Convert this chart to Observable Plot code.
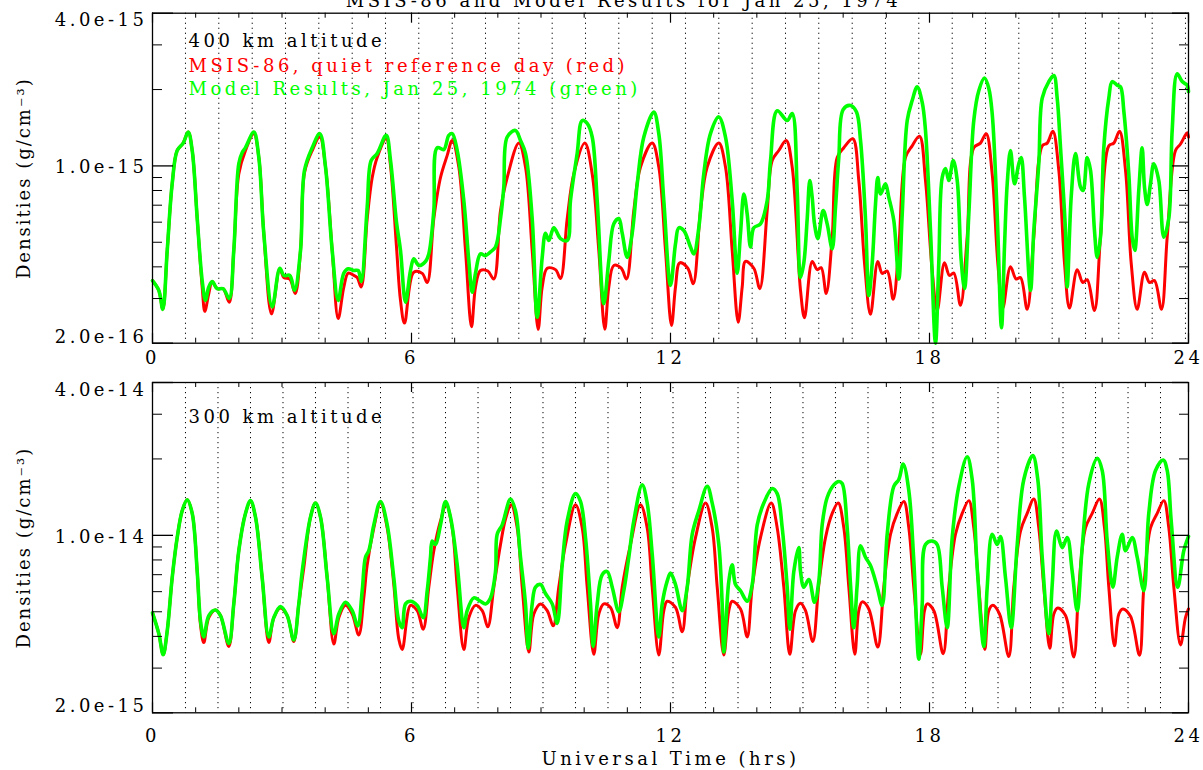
<!DOCTYPE html>
<html><head><meta charset="utf-8">
<script src="https://cdn.jsdelivr.net/npm/d3@7"></script>
<script src="https://cdn.jsdelivr.net/npm/@observablehq/plot@0.6"></script>
<style>
html,body{margin:0;padding:0;background:#fff;}
#chart{width:1203px;height:770px;overflow:hidden;position:relative;background:#fff;}
#chart svg{display:block;}
</style></head><body><div id="chart"></div>
<script>
const title = "MSIS-86 and Model Results for Jan 25, 1974";
const xLabel = "Universal Time (hrs)";
const yLabel = "Densities (g/cm\u207B\u00B3)";
const notes400 = ["400 km altitude", "MSIS-86, quiet reference day (red)", "Model Results, Jan 25, 1974 (green)"];
const notes300 = ["300 km altitude"];
const hourTicks = [0,1,2,3,4,5,6,7,8,9,10,11,12,13,14,15,16,17,18,19,20,21,22,23,24];
const hourLabels = [0,6,12,18,24];
const unit400 = 1e-16, unit300 = 1e-15;
const majors400 = [4e-15, 1e-15, 2e-16], majorLabels400 = ["4.0e-15","1.0e-15","2.0e-16"];
const minors400 = [3e-15, 2e-15, 9e-16, 8e-16, 7e-16, 6e-16, 5e-16, 4e-16, 3e-16];
const majors300 = [4e-14, 1e-14, 2e-15], majorLabels300 = ["4.0e-14","1.0e-14","2.0e-15"];
const minors300 = [3e-14, 2e-14, 9e-15, 8e-15, 7e-15, 6e-15, 5e-15, 4e-15, 3e-15];
// orbit node times (dotted lines), hours
const nodes400 = [0.764,1.536,2.31,3.081,3.853,4.626,5.398,6.169,6.943,7.714,8.486,9.259,10.031,10.802,11.576,12.347,13.119,13.892,14.664,15.435,16.209,16.98,17.752,18.526,19.297,20.069,20.842,21.614,22.385,23.159,23.93];
const nodes300 = [0.764,1.517,2.27,3.023,3.776,4.529,5.282,6.035,6.788,7.541,8.294,9.046,9.799,10.552,11.305,12.058,12.811,13.564,14.317,15.069,15.822,16.575,17.328,18.081,18.834,19.587,20.34,21.093,21.846,22.599,23.351];
// [UT hours, density in unit400]
const msis400 = [[0,3.53],[0.146,3.23],[0.239,2.72],[0.341,4.64],[0.456,8.5],[0.572,11.5],[0.711,12.3],[0.827,13.6],[0.92,11.5],[1.036,6.2],[1.151,3.33],[1.212,2.67],[1.304,3.14],[1.383,3.5],[1.499,3.28],[1.638,3.28],[1.777,2.9],[1.883,4.64],[1.999,9.3],[2.154,11.5],[2.347,13.4],[2.463,10.8],[2.578,5.43],[2.757,2.61],[2.949,3.93],[3.042,3.63],[3.181,3.58],[3.306,3.14],[3.429,4.64],[3.521,9.4],[3.7,11.5],[3.876,13.0],[4.008,9.9],[4.163,4.64],[4.302,2.5],[4.432,3.33],[4.534,3.78],[4.663,3.7],[4.742,3.63],[4.835,3.33],[4.974,6.2],[5.09,9.0],[5.205,10.8],[5.414,12.8],[5.514,10.0],[5.652,4.8],[5.745,2.95],[5.838,2.4],[6.053,3.81],[6.248,3.77],[6.364,3.47],[6.517,6.2],[6.672,9.0],[6.827,11.0],[6.943,12.6],[7.096,9.9],[7.251,4.64],[7.39,2.32],[7.483,3.33],[7.598,3.87],[7.768,3.85],[7.907,3.58],[8.062,6.67],[8.217,9.0],[8.486,12.3],[8.641,9.9],[8.796,4.64],[8.935,2.27],[9.028,3.33],[9.144,3.95],[9.336,3.9],[9.452,3.6],[9.607,6.2],[9.76,9.3],[10.015,12.3],[10.186,9.3],[10.339,4.64],[10.478,2.27],[10.571,3.33],[10.687,4.05],[10.858,3.95],[10.981,3.58],[11.15,6.67],[11.305,9.9],[11.576,12.3],[11.729,9.9],[11.884,4.64],[12.023,2.35],[12.116,3.33],[12.215,4.15],[12.401,3.95],[12.526,3.43],[12.695,6.67],[12.85,9.9],[13.119,12.3],[13.274,9.9],[13.429,4.64],[13.568,2.42],[13.661,3.33],[13.737,4.2],[13.93,3.95],[14.069,3.28],[14.24,6.67],[14.356,10.5],[14.509,11.5],[14.68,12.6],[14.819,9.9],[15.012,3.23],[15.104,2.52],[15.283,4.2],[15.399,3.9],[15.491,3.97],[15.607,3.14],[15.746,5.24],[15.862,10.8],[16.015,11.8],[16.223,12.8],[16.362,8.76],[16.494,4.15],[16.633,2.6],[16.802,4.2],[16.904,3.77],[17.02,3.85],[17.159,2.98],[17.289,4.79],[17.444,10.8],[17.599,12.0],[17.768,13.1],[17.907,8.76],[18.062,3.87],[18.178,2.69],[18.347,4.15],[18.463,3.7],[18.563,3.78],[18.718,2.82],[18.873,5.24],[19.026,11.8],[19.181,12.3],[19.313,13.4],[19.452,9.3],[19.582,4.15],[19.698,2.75],[19.876,4.0],[20.008,3.58],[20.108,3.63],[20.263,2.72],[20.416,5.24],[20.611,12.0],[20.727,12.3],[20.857,13.7],[20.996,9.6],[21.127,4.15],[21.243,2.75],[21.422,3.9],[21.552,3.47],[21.653,3.56],[21.822,2.69],[21.961,5.24],[22.154,12.0],[22.27,12.3],[22.402,13.7],[22.541,9.6],[22.672,4.15],[22.811,2.72],[22.981,3.81],[23.097,3.47],[23.212,3.53],[23.375,2.72],[23.507,5.24],[23.699,11.5],[23.815,12.2],[23.97,13.5],[24,13.0]];
const model400 = [[0,3.53],[0.146,3.23],[0.239,2.72],[0.341,4.64],[0.456,8.5],[0.572,11.5],[0.711,12.3],[0.827,13.6],[0.92,11.5],[1.036,6.2],[1.151,3.53],[1.228,2.95],[1.304,3.33],[1.383,3.5],[1.499,3.28],[1.638,3.28],[1.777,3.0],[1.883,4.64],[1.999,10.2],[2.078,11.3],[2.154,11.8],[2.347,13.6],[2.463,10.8],[2.578,5.43],[2.773,2.78],[2.949,3.95],[3.042,3.7],[3.181,3.7],[3.29,3.23],[3.429,4.64],[3.521,9.6],[3.7,11.8],[3.876,13.4],[4.008,9.9],[4.163,4.64],[4.302,2.95],[4.432,3.78],[4.534,3.93],[4.663,3.87],[4.765,3.87],[4.835,3.5],[4.974,6.9],[5.066,10.5],[5.205,11.2],[5.414,13.2],[5.514,10.5],[5.652,6.0],[5.745,4.64],[5.861,2.9],[5.977,3.87],[6.053,4.3],[6.169,4.05],[6.324,4.2],[6.401,4.5],[6.517,6.67],[6.595,11.8],[6.748,11.6],[6.864,13.2],[6.943,13.4],[7.059,11.5],[7.212,7.3],[7.327,4.24],[7.406,3.18],[7.483,3.78],[7.598,4.5],[7.714,4.43],[7.83,4.58],[7.946,4.79],[8.062,6.2],[8.138,8.25],[8.217,13.0],[8.409,13.8],[8.525,12.6],[8.641,11.2],[8.796,6.2],[8.912,2.53],[9.028,4.36],[9.104,5.43],[9.181,5.08],[9.297,5.7],[9.452,5.17],[9.607,5.08],[9.683,7.3],[9.838,11.2],[9.954,15.1],[10.07,14.7],[10.186,13.0],[10.302,7.3],[10.455,2.86],[10.571,4.24],[10.687,5.91],[10.802,6.2],[10.881,5.43],[10.997,4.36],[11.113,5.43],[11.229,8.5],[11.382,13.0],[11.613,16.3],[11.729,13.4],[11.845,7.3],[12.0,3.38],[12.116,4.93],[12.192,5.7],[12.308,5.56],[12.463,4.79],[12.54,4.5],[12.656,5.7],[12.771,9.3],[12.926,13.4],[13.119,15.6],[13.274,13.0],[13.429,7.3],[13.545,3.78],[13.622,5.43],[13.699,7.75],[13.777,6.45],[13.853,4.79],[13.93,5.7],[14.085,5.91],[14.24,7.3],[14.317,10.5],[14.472,16.5],[14.703,15.1],[14.819,16.1],[14.935,8.0],[15.012,3.63],[15.089,4.15],[15.167,6.2],[15.227,8.76],[15.283,7.5],[15.336,5.91],[15.413,5.17],[15.536,6.67],[15.629,5.91],[15.746,4.71],[15.823,6.9],[15.899,10.8],[16.001,16.7],[16.17,17.3],[16.309,16.3],[16.402,12.6],[16.517,6.2],[16.594,3.08],[16.673,4.15],[16.749,7.05],[16.802,9.0],[16.865,7.75],[16.98,8.5],[17.057,7.52],[17.173,6.09],[17.289,3.58],[17.368,6.45],[17.484,15.1],[17.599,18.1],[17.715,20.5],[17.831,17.8],[17.907,13.8],[18.023,5.56],[18.139,2.0],[18.215,4.15],[18.294,9.0],[18.371,9.77],[18.447,8.76],[18.549,10.5],[18.642,8.76],[18.734,4.24],[18.811,3.28],[18.911,6.45],[19.026,15.1],[19.142,19.8],[19.274,22.2],[19.374,20.2],[19.452,16.1],[19.568,6.45],[19.668,2.3],[19.737,4.79],[19.8,8.5],[19.876,11.5],[19.969,8.5],[20.069,10.2],[20.124,10.8],[20.201,7.52],[20.34,3.23],[20.416,5.56],[20.532,10.2],[20.611,18.5],[20.764,21.5],[20.88,22.7],[20.958,18.5],[21.035,11.8],[21.15,5.56],[21.19,3.33],[21.282,7.52],[21.382,11.2],[21.498,8.25],[21.56,8.0],[21.653,10.8],[21.73,9.6],[21.822,5.56],[21.885,4.36],[21.961,5.24],[22.038,11.8],[22.154,18.5],[22.232,21.5],[22.348,20.8],[22.425,20.5],[22.501,16.5],[22.617,9.3],[22.695,5.24],[22.755,4.64],[22.848,8.0],[22.926,11.8],[22.981,8.25],[23.043,7.05],[23.119,8.5],[23.196,10.2],[23.312,8.76],[23.427,5.24],[23.543,6.2],[23.622,13.8],[23.738,23.1],[23.854,21.5],[23.97,20.8],[24,19.6]];
// [UT hours, density in unit300]
const msis300 = [[0,4.95],[0.146,4.1],[0.248,3.39],[0.341,4.2],[0.456,6.8],[0.572,9.8],[0.688,12.5],[0.804,13.8],[0.92,12.2],[1.036,7.2],[1.112,4.43],[1.188,3.78],[1.304,4.74],[1.459,5.08],[1.575,4.83],[1.768,3.65],[1.883,5.37],[1.999,8.7],[2.154,12.2],[2.27,13.6],[2.386,11.8],[2.541,6.8],[2.694,3.78],[2.81,4.74],[2.965,5.17],[3.12,4.83],[3.273,3.82],[3.389,5.37],[3.505,7.45],[3.66,11.8],[3.776,13.4],[3.892,11.8],[4.047,6.8],[4.2,3.73],[4.316,4.74],[4.471,5.3],[4.626,4.9],[4.779,4.05],[4.895,5.67],[4.974,7.65],[5.127,10.7],[5.282,13.4],[5.437,10.7],[5.59,6.4],[5.706,3.9],[5.785,3.55],[5.977,5.3],[6.132,5.05],[6.271,4.27],[6.401,6.25],[6.517,8.7],[6.672,11.4],[6.804,13.2],[6.943,10.7],[7.059,6.25],[7.212,3.55],[7.327,4.74],[7.483,5.3],[7.638,5.05],[7.768,4.36],[7.907,6.25],[8.062,9.2],[8.178,11.6],[8.31,13.2],[8.449,10.7],[8.565,6.25],[8.718,3.47],[8.834,4.9],[8.989,5.37],[9.144,5.05],[9.283,4.4],[9.412,6.25],[9.568,9.2],[9.799,13.2],[9.955,10.7],[10.07,6.25],[10.223,3.4],[10.339,4.9],[10.455,5.37],[10.61,5.2],[10.765,4.33],[10.881,6.25],[11.073,9.2],[11.305,13.2],[11.46,10.7],[11.576,6.25],[11.729,3.38],[11.845,5.05],[11.923,5.5],[12.116,5.2],[12.271,4.17],[12.387,6.25],[12.579,9.8],[12.811,13.4],[12.966,10.7],[13.082,6.25],[13.235,3.38],[13.351,5.05],[13.429,5.5],[13.622,5.13],[13.777,3.98],[13.893,6.25],[14.085,9.8],[14.333,13.4],[14.472,10.7],[14.625,6.25],[14.764,3.4],[14.896,5.05],[15.012,5.4],[15.128,5.05],[15.297,3.82],[15.436,6.4],[15.591,9.8],[15.746,12.2],[15.885,13.4],[16.015,10.7],[16.131,6.25],[16.27,3.4],[16.362,5.05],[16.441,5.47],[16.594,5.13],[16.802,3.63],[16.941,6.25],[17.097,10.1],[17.252,12.2],[17.405,13.6],[17.521,10.7],[17.636,6.25],[17.791,3.4],[17.884,5.05],[17.947,5.37],[18.1,5.05],[18.317,3.42],[18.447,6.25],[18.602,10.1],[18.757,12.2],[18.911,13.7],[19.026,10.7],[19.142,6.25],[19.281,3.55],[19.374,5.05],[19.466,5.3],[19.622,4.9],[19.837,3.33],[19.953,6.25],[20.108,10.4],[20.263,12.2],[20.416,13.9],[20.532,10.7],[20.648,6.25],[20.787,3.59],[20.88,4.9],[20.972,5.17],[21.151,4.83],[21.343,3.32],[21.459,6.25],[21.614,10.7],[21.769,12.2],[21.938,13.9],[22.054,10.7],[22.154,6.25],[22.286,3.67],[22.386,4.9],[22.478,5.13],[22.656,4.8],[22.865,3.37],[22.965,6.25],[23.12,10.7],[23.275,12.2],[23.428,13.7],[23.544,10.7],[23.66,6.25],[23.815,3.7],[23.93,4.74],[24,5.13]];
const model300 = [[0,4.95],[0.146,4.1],[0.248,3.39],[0.341,4.2],[0.456,6.8],[0.572,9.8],[0.688,12.5],[0.804,13.8],[0.92,12.2],[1.036,7.2],[1.112,4.6],[1.188,3.98],[1.304,4.83],[1.459,5.08],[1.575,4.83],[1.768,3.75],[1.883,5.37],[1.999,8.7],[2.154,12.2],[2.27,13.7],[2.386,11.8],[2.541,6.8],[2.694,3.98],[2.81,4.74],[2.965,5.24],[3.12,4.83],[3.273,3.87],[3.389,5.37],[3.468,7.2],[3.66,11.8],[3.776,13.4],[3.892,11.8],[4.047,6.8],[4.2,4.1],[4.316,4.9],[4.471,5.45],[4.626,5.05],[4.756,4.4],[4.858,6.05],[4.934,8.2],[5.011,8.7],[5.127,11.0],[5.282,13.6],[5.437,11.0],[5.59,6.8],[5.706,4.6],[5.785,4.33],[5.861,5.37],[5.977,5.5],[6.132,5.3],[6.271,4.74],[6.364,6.05],[6.44,8.2],[6.48,9.5],[6.556,9.2],[6.672,11.0],[6.788,13.6],[6.903,11.8],[7.059,7.65],[7.212,4.33],[7.29,5.05],[7.443,5.67],[7.598,5.5],[7.714,5.37],[7.83,5.67],[7.946,7.2],[7.985,10.1],[8.101,11.0],[8.294,13.9],[8.409,12.5],[8.525,8.2],[8.641,5.37],[8.703,3.59],[8.796,5.37],[8.873,6.25],[8.989,6.4],[9.104,5.9],[9.26,5.37],[9.376,4.5],[9.491,7.65],[9.607,11.4],[9.799,14.6],[9.915,13.6],[10.031,9.8],[10.147,5.37],[10.209,3.65],[10.302,5.37],[10.418,7.0],[10.534,7.2],[10.65,6.25],[10.802,5.0],[10.918,6.05],[11.034,8.2],[11.15,11.4],[11.344,15.8],[11.46,13.4],[11.576,8.45],[11.729,3.98],[11.808,5.37],[11.923,6.6],[12.0,7.1],[12.116,6.4],[12.271,5.05],[12.387,6.25],[12.503,10.1],[12.656,12.5],[12.85,15.6],[12.966,13.4],[13.119,9.2],[13.197,5.37],[13.235,3.47],[13.351,6.6],[13.429,7.65],[13.506,6.4],[13.622,6.05],[13.777,5.5],[13.893,6.4],[14.009,11.0],[14.162,13.4],[14.356,15.3],[14.472,14.6],[14.588,10.7],[14.703,6.25],[14.764,4.27],[14.857,7.2],[14.972,8.95],[15.012,7.2],[15.088,6.25],[15.204,6.7],[15.336,5.45],[15.436,6.6],[15.514,11.0],[15.63,14.1],[15.783,15.8],[15.899,16.3],[15.977,16.0],[16.093,10.7],[16.17,6.4],[16.246,4.33],[16.325,6.4],[16.402,9.1],[16.517,8.2],[16.633,7.6],[16.789,6.25],[16.904,5.3],[17.02,10.1],[17.173,15.6],[17.289,16.6],[17.391,19.1],[17.521,15.0],[17.636,7.95],[17.752,3.25],[17.831,5.37],[17.907,9.2],[18.063,9.5],[18.178,9.2],[18.294,6.25],[18.41,4.33],[18.526,9.8],[18.679,15.6],[18.873,20.4],[18.989,16.6],[19.105,7.45],[19.258,3.65],[19.337,6.25],[19.452,10.1],[19.568,9.2],[19.645,9.9],[19.761,6.8],[19.893,4.33],[20.032,9.2],[20.185,16.6],[20.393,20.6],[20.509,16.6],[20.611,8.2],[20.764,4.1],[20.843,6.4],[20.942,10.4],[21.074,8.95],[21.19,9.8],[21.306,7.2],[21.422,5.05],[21.537,8.95],[21.691,16.0],[21.885,20.1],[22.001,18.0],[22.117,9.5],[22.247,6.25],[22.348,8.2],[22.464,10.1],[22.541,8.7],[22.696,9.8],[22.811,8.2],[22.965,6.05],[23.08,12.2],[23.236,18.0],[23.414,19.8],[23.507,18.0],[23.599,11.4],[23.752,6.25],[23.891,8.7],[24,9.9]];

const rows = (arr, unit) => arr.map(([t, v]) => ({t, d: v * unit}));
const RED = "#ff0000", GREEN = "#00ff00";

function panel(o) {
  const W = 1203, ml = 152, mr = 15;
  const pw = W - ml - mr, ph = o.height - o.mt - o.mb;
  const marks = [
    Plot.ruleX(o.nodes, {x: d => d, stroke: "#000", strokeWidth: 1, strokeDasharray: "1.2,3.8"}),
    Plot.line(rows(o.ref, o.unit), {x: "t", y: "d", stroke: RED, strokeWidth: 3, curve: "catmull-rom"}),
    Plot.line(rows(o.model, o.unit), {x: "t", y: "d", stroke: GREEN, strokeWidth: 3.6, curve: "catmull-rom"}),
    Plot.frame({stroke: "#000", strokeWidth: 1.3}),
    Plot.tickY(o.majors, {y: d => d, stroke: "#000", strokeWidth: 1.3, insetRight: pw - 21}),
    Plot.tickY(o.minors, {y: d => d, stroke: "#000", strokeWidth: 1, insetRight: pw - 10}),
    Plot.tickY(o.majors, {y: d => d, stroke: "#000", strokeWidth: 1.3, insetLeft: pw - 16}),
    Plot.tickY(o.minors, {y: d => d, stroke: "#000", strokeWidth: 1, insetLeft: pw - 9}),
    Plot.tickX(hourLabels, {x: d => d, stroke: "#000", strokeWidth: 1.2, insetTop: ph - 10}),
    Plot.tickX(hourTicks, {x: d => d, stroke: "#000", strokeWidth: 1, insetTop: ph - 5}),
    Plot.tickX(hourLabels, {x: d => d, stroke: "#000", strokeWidth: 1.2, insetBottom: ph - 10}),
    Plot.tickX(hourTicks, {x: d => d, stroke: "#000", strokeWidth: 1, insetBottom: ph - 5}),
    Plot.text(hourLabels, {x: d => d, text: d => String(d), frameAnchor: "bottom", lineAnchor: "top", dy: o.xPad, fill: "#000", fontSize: 18}),
    Plot.text([yLabel], {text: d => d, frameAnchor: "left", dx: -128, rotate: -90, lineAnchor: "middle", textAnchor: "middle", fill: "#000", fontSize: 18})
  ];
  o.majors.forEach((v, i) => {
    marks.push(Plot.text([v], {y: d => d, text: () => o.majorLabels[i], frameAnchor: "left", dx: -5, dy: o.labelDy[i], textAnchor: "end", lineAnchor: "middle", fill: "#000", fontSize: 18}));
  });
  o.notes.forEach((n) => {
    marks.push(Plot.text([n.text], {text: d => d, frameAnchor: "top-left", dx: n.dx, dy: n.dy, textAnchor: n.anchor || "start", lineAnchor: "top", fill: n.color, fontSize: 18}));
  });
  const svg = Plot.plot({
    width: W, height: o.height,
    marginLeft: ml, marginRight: mr, marginTop: o.mt, marginBottom: o.mb,
    x: {domain: [0, 24], axis: null},
    y: {type: "log", domain: o.domain, axis: null},
    style: "font-family: 'DejaVu Serif', serif; font-size: 18px; letter-spacing: 3.5px; background: #fff; overflow: visible;",
    marks
  });
  d3.select(svg).selectAll("text").filter(function() { return this.textContent.startsWith("Densities"); }).attr("letter-spacing", "2px");
  return svg;
}

const topPanel = panel({
  height: 370, mt: 12.7, mb: 27.3, domain: [2e-16, 4e-15], unit: unit400,
  ref: msis400, model: model400, nodes: nodes400,
  majors: majors400, majorLabels: majorLabels400, minors: minors400, labelDy: [7.3, 1, -6.4],
  xPad: 8,
  notes: [
    {text: title, dx: 471, dy: -19, color: "#000", anchor: "middle"},
    {text: notes400[0], dx: 36, dy: 20.6, color: "#000"},
    {text: notes400[1], dx: 36, dy: 45.6, color: RED},
    {text: notes400[2], dx: 36, dy: 69, color: GREEN}
  ]
});
const bottomPanel = panel({
  height: 400, mt: 12, mb: 57.7, domain: [2e-15, 4e-14], unit: unit300,
  ref: msis300, model: model300, nodes: nodes300,
  majors: majors300, majorLabels: majorLabels300, minors: minors300, labelDy: [8, 1.8, -6.3],
  xPad: 16,
  notes: [
    {text: notes300[0], dx: 36, dy: 27.3, color: "#000"},
    {text: xLabel, dx: 518, dy: 369.7, color: "#000", anchor: "middle"}
  ]
});
const root = document.getElementById("chart");
root.appendChild(topPanel);
root.appendChild(bottomPanel);
</script>
</body></html>
